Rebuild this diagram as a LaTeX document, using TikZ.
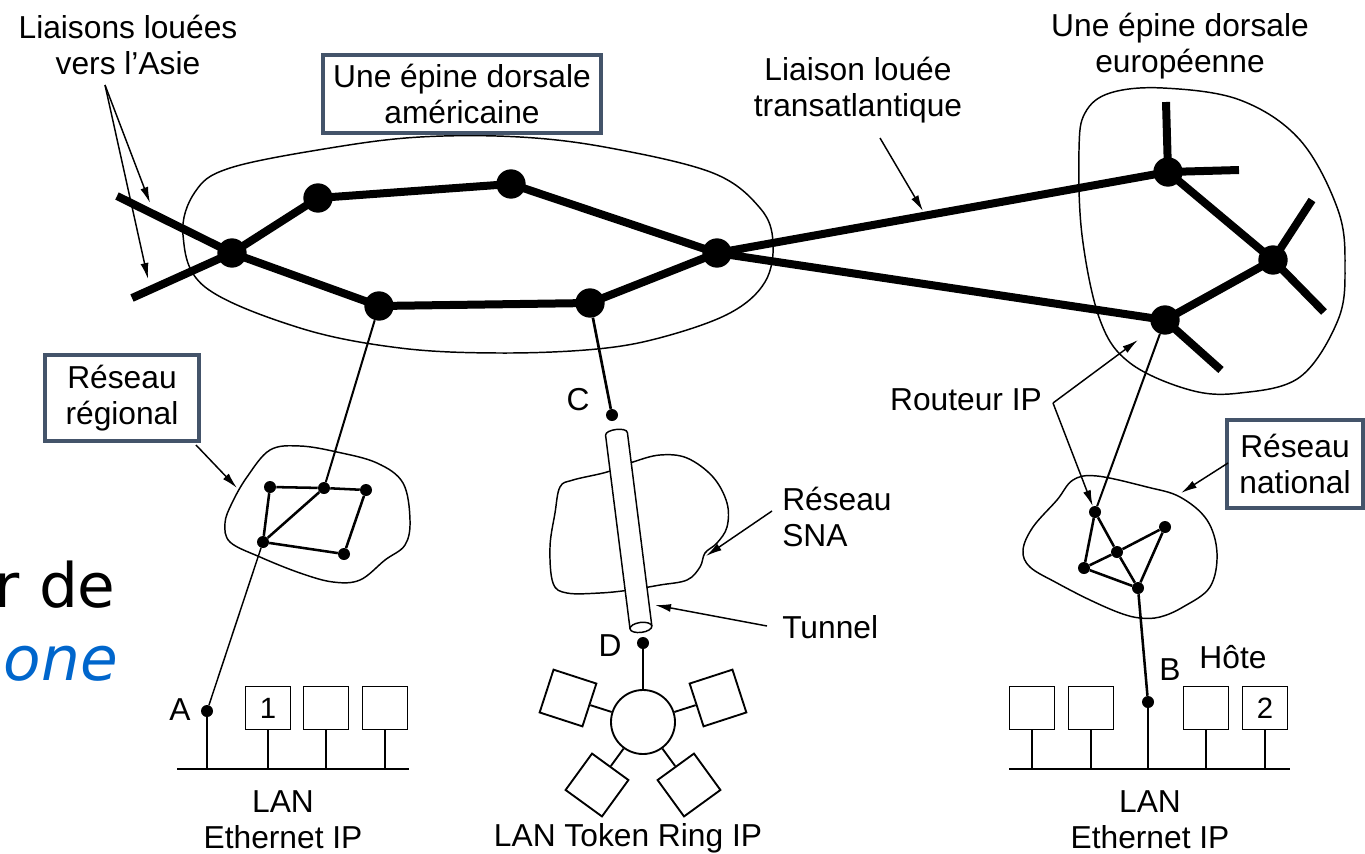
\documentclass[tikz,border=0pt]{standalone}
\usepackage{fontspec}
\setmainfont{Liberation Sans}
\newfontfamily\slidefont{DejaVu Sans}
\usetikzlibrary{arrows.meta}
\definecolor{boxedge}{RGB}{68,84,106}
\definecolor{slideblue}{RGB}{0,102,204}

\begin{document}
\begin{tikzpicture}[x=0.75pt,y=-0.75pt,
  backbone/.style={line width=6pt},
  bigdot/.style={circle,fill=black,inner sep=0pt,minimum size=22pt},
  smalldot/.style={circle,fill=black,inner sep=0pt,minimum size=9pt},
  netline/.style={line width=1.9pt},
  contour/.style={line width=1.1pt},
  pointer/.style={line width=1.1pt,-{Latex[length=12pt,width=6pt]}},
  txt/.style={font=\fontsize{23.8pt}{27pt}\selectfont,align=center,inner sep=0pt},
  framed/.style={txt,draw=boxedge,line width=3pt,fill=white},
  host/.style={draw,line width=1.4pt,fill=white,minimum width=33.75pt,minimum height=32.25pt,inner sep=0pt,font=\fontsize{22pt}{22pt}\selectfont},
  lanline/.style={line width=1.4pt},
  ringhost/.style={draw,line width=1.4pt,fill=white,minimum width=33.75pt,minimum height=33.75pt,inner sep=0pt}
]
\useasboundingbox (0,0) rectangle (1365,854);
\clip (0,0) rectangle (1365,854);

% partial slide text on the left
\node[anchor=base east,inner sep=0pt,font=\slidefont\fontsize{46pt}{46pt}\selectfont] (slideA) at (116,607) {r de};
\node[anchor=base east,inner sep=0pt,font=\slidefont\itshape\fontsize{46pt}{46pt}\selectfont,text=slideblue] (slideB) at (118,680) {bone};

% ---------- backbone outlines ----------
\draw[contour] plot[smooth cycle,tension=0.6] coordinates {(183,235) (195,192) (230,168) (330,148) (420,137) (520,137) (610,148) (713,173) (760,208) (773,242) (765,282) (730,313) (663,337) (597,349) (500,353) (400,348) (300,328) (205,287)};
\draw[contour] plot[smooth cycle,tension=0.6] coordinates {(1085,113) (1110,93) (1163,88) (1240,100) (1300,140) (1338,210) (1345,267) (1338,320) (1300,377) (1240,393) (1190,390) (1130,363) (1100,320) (1082,235) (1079,150)};

% ---------- American backbone ----------
\node[bigdot] (n1) at (232,253) {};
\node[bigdot] (n2) at (318,198) {};
\node[bigdot] (n3) at (511,184) {};
\node[bigdot] (n4) at (717,253) {};
\node[bigdot] (n5) at (590,303) {};
\node[bigdot] (n6) at (379,306) {};
\coordinate (asia1) at (117,196);
\coordinate (asia2) at (132,298);
\draw[backbone] (asia1) -- (n1.center) -- (n6.center) -- (n5.center) -- (n4.center) -- (n3.center) -- (n2.center) -- (n1.center) -- (asia2);

% ---------- European backbone ----------
\node[bigdot] (e1) at (1168,172) {};
\node[bigdot] (e2) at (1273,260) {};
\node[bigdot] (e3) at (1165,320) {};
\coordinate (s1) at (1166,102);
\coordinate (s2) at (1239,170);
\coordinate (s3) at (1312,200);
\coordinate (s4) at (1324,312);
\coordinate (s5) at (1221,370);
\draw[backbone] (n4.center) -- (e1.center) -- (e2.center) -- (e3.center) -- (n4.center);
\draw[backbone] (e1.center) -- (s1) (e1.center) -- (s2) (e2.center) -- (s3) (e2.center) -- (s4) (e3.center) -- (s5);

% ---------- labels at the top ----------
\node[txt] (asialbl) at (128,45) {Liaisons louées\\vers l’Asie};
\node[framed,minimum width=209pt,minimum height=58.5pt] (amlbl) at (462,94) {Une épine dorsale\\américaine};
\node[txt] (tlbl) at (858,90) {Liaison louée\\transatlantique};
\node[txt] (eulbl) at (1180,46) {Une épine dorsale\\européenne};
\coordinate (asiafork) at (105,85);
\coordinate (asiatip1) at (150,203);
\coordinate (asiatip2) at (148,279);
\draw[pointer] (asiafork) -- (asiatip1);
\draw[pointer] (asiafork) -- (asiatip2);
\coordinate (tfoot) at (880,138);
\coordinate (ttip) at (923,211);
\draw[pointer] (tfoot) -- (ttip);

% ---------- regional network ----------
\draw[contour] plot[smooth cycle,tension=0.6] coordinates {(247,477) (270,450) (300,446) (337,452) (377,463) (403,483) (410,520) (405,545) (385,560) (360,580) (333,582) (300,573) (260,557) (230,542) (225,523) (232,503)};
\node[smalldot] (r1) at (270,487) {};
\node[smalldot] (r2) at (324,488) {};
\node[smalldot] (r3) at (366,490) {};
\node[smalldot] (r4) at (263,542) {};
\node[smalldot] (r5) at (344,554) {};
\draw[netline] (r1) -- (r2) -- (r3) -- (r5) -- (r4) -- (r1);
\draw[netline] (r4) -- (r2);
\draw[line width=1.5pt] (n6) -- (r2);
\node[framed,minimum width=116pt,minimum height=65pt] (reglbl) at (122,398) {Réseau\\régional};
\coordinate (regtip) at (237,488);
\draw[pointer] (196,445) -- (regtip);

% ---------- left LAN ----------
\node[smalldot] (a) at (207,711) {};
\node[txt] (alb) at (180,710) {A};
\draw[line width=1.1pt] (r4) -- (a);
\coordinate (busL1) at (177,769);
\coordinate (busL2) at (409,769);
\draw[lanline] (busL1) -- (busL2);
\node[host] (h1) at (268,708) {1};
\node[host] (h2) at (326,708) {};
\node[host] (h3) at (385,708) {};
\draw[lanline] (a) -- (207,769);
\draw[lanline] (h1.south) -- (268,769);
\draw[lanline] (h2.south) -- (326,769);
\draw[lanline] (h3.south) -- (385,769);
\node[txt] (lanL) at (283,820) {LAN\\Ethernet IP};

% ---------- SNA network and tunnel ----------
\draw[contour] plot[smooth cycle,tension=0.6] coordinates {(573,480) (607,472) (633,462) (660,455) (687,458) (713,477) (727,503) (727,527) (717,543) (705,553) (700,567) (687,580) (660,585) (630,590) (600,593) (567,593) (553,583) (550,547) (555,513) (560,487)};
\node[smalldot] (c) at (612,415) {};
\node[txt] (clb) at (578,400) {C};
\draw[line width=2pt] (n5) -- (c);
\begin{scope}[shift={(616,430)},rotate=7.2]
  \draw[contour,fill=white] (-11,199) -- (-11,4) .. controls (-11,-2) and (11,-2) .. (11,4) -- (11,199);
  \draw[contour,fill=white] (0,199) ellipse [x radius=8.25pt,y radius=3.75pt];
\end{scope}
\node[smalldot] (d) at (643,643) {};
\node[txt] (dlb) at (610,646) {D};
\node[txt,align=left,anchor=west] (snalbl) at (782,517) {Réseau\\SNA};
\node[txt,anchor=west] (tunlbl) at (782,627) {Tunnel};
\coordinate (snatip) at (706,556);
\coordinate (tuntip) at (655,605);
\draw[pointer] (772,511) -- (snatip);
\draw[pointer] (767,626) -- (tuntip);

% ---------- token ring ----------
\node[circle,draw,line width=1.4pt,fill=white,minimum size=48pt,inner sep=0pt] (ring) at (643,722) {};
\draw[lanline] (d) -- (ring);
\node[ringhost,rotate=162] (t1) at (568,698) {};
\node[ringhost,rotate=18] (t2) at (718,698) {};
\node[ringhost,rotate=54] (t3) at (597,785) {};
\node[ringhost,rotate=36] (t4) at (689,785) {};
\draw[lanline] (ring) -- (t1);
\draw[lanline] (ring) -- (t2);
\draw[lanline] (ring) -- (t3);
\draw[lanline] (ring) -- (t4);
\node[txt] (trlbl) at (628,838) {LAN Token Ring IP};

% ---------- national network ----------
\draw[contour] plot[smooth cycle,tension=0.6] coordinates {(1073,480) (1097,476) (1147,487) (1180,497) (1207,520) (1217,553) (1210,587) (1183,607) (1160,617) (1140,618) (1120,613) (1090,600) (1057,583) (1030,567) (1023,550) (1033,527) (1057,500)};
\node[smalldot] (m1) at (1095,512) {};
\node[smalldot] (m2) at (1165,527) {};
\node[smalldot] (m3) at (1117,552) {};
\node[smalldot] (m4) at (1084,568) {};
\node[smalldot] (m5) at (1138,588) {};
\draw[netline] (m1) -- (m4) -- (m5) -- (m2) -- (m3) -- (m4);
\draw[netline] (m1) -- (m3) -- (m5);
\draw[line width=1.5pt] (e3) -- (m1);
\node[framed,minimum width=102pt,minimum height=66pt] (natlbl) at (1295,464) {Réseau\\national};
\coordinate (nattip) at (1181,493);
\draw[pointer] (1228,463) -- (nattip);

% router pointers
\node[txt] (riplbl) at (966,400) {Routeur IP};
\coordinate (ripfork) at (1053,403);
\draw[pointer,shorten >=14pt] (ripfork) -- (e3);
\draw[pointer] (ripfork) -- (m1);

% ---------- right LAN ----------
\node[smalldot] (b) at (1148,702) {};
\node[txt] (blb) at (1170,670) {B};
\node[txt] (hotelbl) at (1233,657) {Hôte};
\draw[line width=1.9pt] (m5) -- (b);
\coordinate (busR1) at (1009,769);
\coordinate (busR2) at (1290,769);
\draw[lanline] (busR1) -- (busR2);
\node[host] (g1) at (1032,708) {};
\node[host] (g2) at (1091,708) {};
\node[host] (g3) at (1206,708) {};
\node[host] (g4) at (1265,708) {2};
\draw[lanline] (b) -- (1148,769);
\draw[lanline] (g1.south) -- (1032,769);
\draw[lanline] (g2.south) -- (1091,769);
\draw[lanline] (g3.south) -- (1206,769);
\draw[lanline] (g4.south) -- (1265,769);
\node[txt] (lanR) at (1150,820) {LAN\\Ethernet IP};
\end{tikzpicture}
\end{document}
